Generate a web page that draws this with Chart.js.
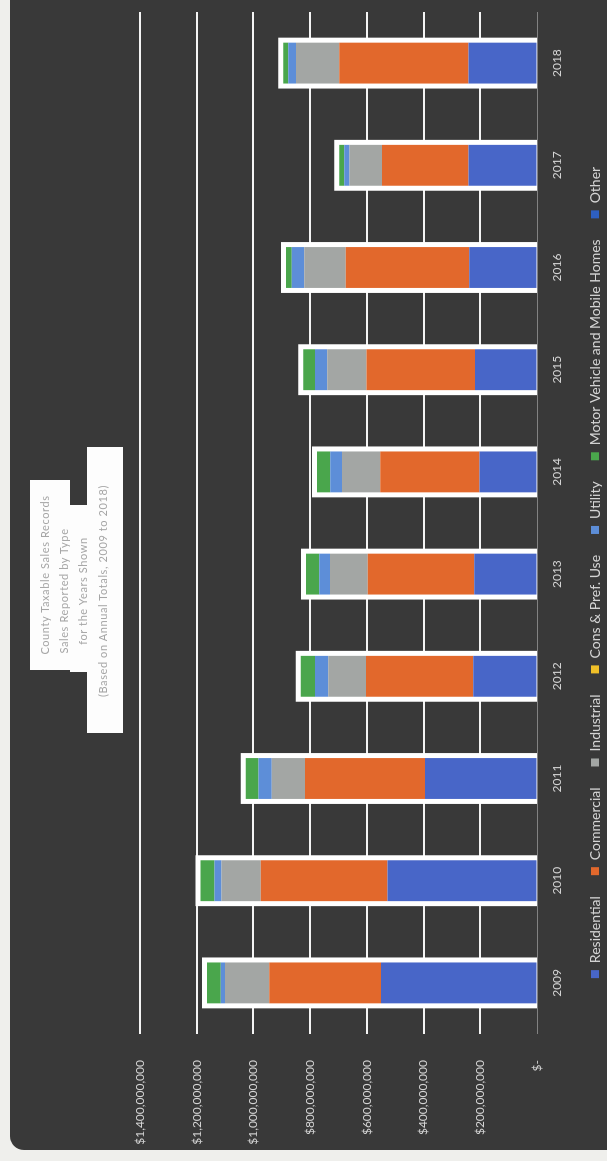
<!DOCTYPE html>
<html>
<head>
<meta charset="utf-8">
<script src="https://cdn.jsdelivr.net/npm/chart.js@4.4.1/dist/chart.umd.min.js"></script>
<style>
  html, body { margin: 0; padding: 0; }
  body { width: 607px; height: 1161px; overflow: hidden; background: #efefec; position: relative; }
  /* the chart is laid out landscape and turned on its side */
  #sheet {
    position: absolute; left: 0; top: 0;
    width: 1161px; height: 607px;
    transform-origin: 0 0;
    transform: translate(0, 1161px) rotate(-90deg);
  }
  #panel {
    position: absolute; left: 11px; top: 10px;
    width: 1180px; height: 620px;
    background: #393939; border-radius: 14px;
  }
  #salesChart { position: absolute; left: 0; top: 0; }
  .title-bg { position: absolute; background: #fdfdfd; }
  .title-line {
    position: absolute; left: 420px; width: 300px; height: 14px;
    color: #a6a6a6; line-height: 14px;
    font-family: Lato, "Open Sans", sans-serif; font-size: 11px;
    text-align: center; letter-spacing: 0.6px;
    filter: blur(0.4px);
  }
</style>
</head>
<body>
<div id="sheet">
  <div id="panel"></div>
  <canvas id="salesChart" width="1161" height="607"></canvas>
  <div class="title-bg" style="left:491px; top:30px; width:190px; height:40px;"></div>
  <div class="title-bg" style="left:489px; top:70px; width:167px; height:17px;"></div>
  <div class="title-bg" style="left:428px; top:87px; width:286px; height:36px;"></div>
  <div class="title-line" style="top:38px; left:436px;">County Taxable Sales Records</div>
  <div class="title-line" style="top:57px;">Sales Reported by Type</div>
  <div class="title-line" style="top:76px;">for the Years Shown</div>
  <div class="title-line" style="top:96px;">(Based on Annual Totals, 2009 to 2018)</div>
</div>
<script>
document.addEventListener('DOMContentLoaded', function () {
    // values in millions of dollars
    const years = ['2009', '2010', '2011', '2012', '2013', '2014', '2015', '2016', '2017', '2018'];
    const residential  = [550, 527, 395, 225, 221, 203, 219, 239, 242, 242];
    const commercial   = [394, 447, 423, 378, 376, 350, 382, 435, 305, 455];
    const industrial   = [156, 139, 117, 133, 133, 135, 139, 147, 114, 153];
    const consPrefUse  = [0, 0, 0, 0, 0, 0, 0, 0, 0, 0];
    const utility      = [15, 24, 47, 47, 38, 41, 43, 44, 19, 27];
    const motorVehicle = [49, 50, 45, 50, 47, 47, 41, 20, 17, 18];
    const other        = [0, 0, 0, 0, 0, 0, 0, 0, 0, 0];
    const yTicks = [0, 200, 400, 600, 800, 1000, 1200, 1400];

    const MILLION = 1000000;
    const toDollars = arr => arr.map(v => v * MILLION);

    const series = [
        { label: 'Residential', data: residential, color: '#4866c8' },
        { label: 'Commercial', data: commercial, color: '#e2682c' },
        { label: 'Industrial', data: industrial, color: '#a3a6a4' },
        { label: 'Cons & Pref. Use', data: consPrefUse, color: '#f0c028' },
        { label: 'Utility', data: utility, color: '#5d8ed8' },
        { label: 'Motor Vehicle and Mobile Homes', data: motorVehicle, color: '#4aa64c' },
        { label: 'Other', data: other, color: '#2e5fc0' }
    ];

    const totals = years.map((_, i) => series.reduce((s, d) => s + d.data[i], 0));

    const datasets = series.map(s => ({
        label: s.label,
        data: toDollars(s.data),
        backgroundColor: s.color,
        stack: 'main',
        order: 0,
        barPercentage: 0.4,
        categoryPercentage: 1.0
    }));

    // white frame behind each stacked bar
    datasets.push({
        label: 'frame',
        data: toDollars(totals),
        backgroundColor: '#ffffff',
        stack: 'frame',
        grouped: false,
        order: 1,
        inflateAmount: 5,
        barPercentage: 0.4,
        categoryPercentage: 1.0
    });

    // fixed legend height, nudged a little off centre
    const legendTweaks = {
        id: 'legendTweaks',
        beforeInit(chart) {
            const fit = chart.legend.fit;
            chart.legend.fit = function () {
                fit.call(this);
                this.height = 40;
            };
        },
        afterLayout(chart) {
            chart.legend.left += 14;
            chart.legend.right += 14;
        }
    };

    const textColor = '#d4d4d4';
    const font = { family: 'Lato, "Open Sans", sans-serif', size: 12 };

    const ctx = document.getElementById('salesChart').getContext('2d');
    new Chart(ctx, {
        type: 'bar',
        data: { labels: years, datasets: datasets },
        options: {
            responsive: false,
            animation: false,
            layout: { padding: { top: 140, left: 0, right: 12, bottom: 0 } },
            scales: {
                x: {
                    stacked: true,
                    grid: { display: false, drawTicks: false },
                    border: { display: false },
                    ticks: { color: textColor, font: font, padding: 13 },
                    afterFit(scale) { scale.height = 30; }
                },
                y: {
                    stacked: true,
                    min: 0,
                    max: 1400 * MILLION,
                    afterBuildTicks(scale) {
                        scale.ticks = yTicks.map(v => ({ value: v * MILLION }));
                    },
                    grid: {
                        drawTicks: false,
                        color: c => c.tick && c.tick.value === 0 ? 'rgba(190,190,190,0.55)' : '#f4f4f4',
                        lineWidth: c => c.tick && c.tick.value === 0 ? 1 : 2
                    },
                    border: { display: false },
                    ticks: {
                        color: textColor,
                        font: font,
                        padding: 26,
                        callback: v => v === 0 ? '$-' : '$' + v.toLocaleString('en-US')
                    },
                    afterFit(scale) { scale.width = 127; }
                }
            },
            plugins: {
                legend: {
                    position: 'bottom',
                    labels: {
                        color: textColor,
                        font: { family: 'Lato, "Open Sans", sans-serif', size: 14 },
                        boxWidth: 8,
                        boxHeight: 8,
                        padding: 21,
                        filter: item => item.text !== 'frame'
                    }
                },
                tooltip: { enabled: false }
            }
        },
        plugins: [legendTweaks]
    });
});
</script>
</body>
</html>
